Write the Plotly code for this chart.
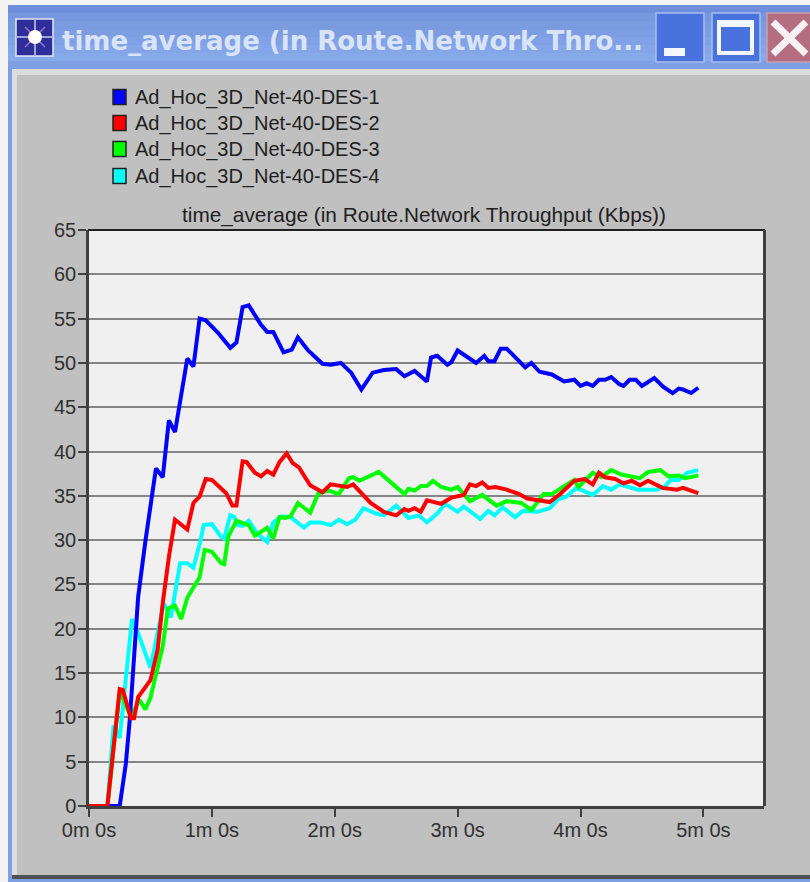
import plotly.graph_objects as go

series_names = ["Ad_Hoc_3D_Net-40-DES-1", "Ad_Hoc_3D_Net-40-DES-2", "Ad_Hoc_3D_Net-40-DES-3", "Ad_Hoc_3D_Net-40-DES-4"]
chart_title = "time_average (in Route.Network Throughput (Kbps))"
window_title = "time_average (in Route.Network Thro..."
x_tick_vals = [0, 60, 120, 180, 240, 300]
x_tick_text = ["0m 0s", "1m 0s", "2m 0s", "3m 0s", "4m 0s", "5m 0s"]
y_tick_vals = list(range(0, 70, 5))

t1 = [0,15,18,20,24,27.6,32.7,36,39,42,48,51,54,57,63,67,69,72,75,78,84,87,90,95,99,102,107,114,118,123,128,133,138.5,144,150,154,159,165,167,170,175,177,180,189,193,195,198,201,204,207,213,216,220,226,232,237,240,243,246,249,252,255,259,261,264,267,270,276,280.5,285,288,290,294,297.5]
v1 = [0,0,4.8,10,23.6,30,38.1,37.1,43.5,42.2,50.5,49.6,55,54.8,53.4,52.2,51.7,52.3,56.3,56.5,54.3,53.5,53.5,51.2,51.5,52.9,51.4,49.9,49.8,50,48.9,47,48.9,49.2,49.3,48.5,49.1,47.9,50.6,50.8,49.8,50.1,51.4,50,50.8,50.2,50.2,51.6,51.6,50.9,49.5,50,49,48.7,47.9,48.1,47.4,47.7,47.4,48.1,48.1,48.4,47.6,47.4,48.1,48.1,47.4,48.3,47.3,46.6,47.1,47,46.6,47.2]

t2 = [0,9,15,16.5,20.5,22,24,30,33.5,36,39,42,48,51,54,57,60,67,70,72,75,77,81,84,87,90,93,96.5,99.5,102.5,108,114,118,121,126,129,137.5,144,150,154,156,159,162,165,172,177,183,186,189,192,195,198.5,204,210,214,225,230,237,242,246,249,252,257,261,265,269,273,280,287,290,297.5]
v2 = [0,0,13.2,13.1,9.9,9.9,12.3,14.2,17.6,22.9,28.1,32.3,31.2,34.2,34.9,36.9,36.8,35.3,33.9,33.9,38.9,38.8,37.6,37.2,37.8,37.4,38.8,39.8,38.7,38.2,36.2,35.4,36.3,36.2,36,36.3,34.2,33.2,32.8,33.5,33.3,33.6,33.2,34.5,34.1,34.8,35.1,36.3,36.1,36.5,35.9,36,35.7,35.2,34.7,34.3,35.2,36.7,36.9,36.3,37.6,37.1,36.9,36.4,36.7,36.2,36.7,35.9,35.7,35.9,35.3]

t3 = [0,9,15,20.5,24.5,27.5,30,36,38.5,42,45,48,54,56.5,60,64.5,66,68,72,78,81,87,90,93,96,98.5,102,108,112,117,122,127,129,132,141.5,154,156,159,162,165,168,172,177,180,186,192,199,204,211,216,222,226,232,237,239,246,250,255,260,269,273,279,283,288,291,297.5]
v3 = [0,0,13,10,12,10.9,12.2,18,22.3,22.6,21.1,23.5,25.8,28.9,28.7,27.4,27.3,30.4,32.2,31.7,30.5,31.4,30.2,32.6,32.5,32.7,34.2,33.1,35.3,35.6,35.2,37,37.1,36.7,37.7,35.2,35.8,35.6,36.1,36.1,36.7,36,35.7,36,34.4,35.1,33.9,34.4,34.2,33.4,35.2,35.2,36.1,36.8,36,37.6,37.1,37.9,37.4,37,37.7,37.9,37.2,37.3,37,37.3]

t4 = [0,9,12,15,21,24,30,36.5,40,44.5,48,51,54.5,56,60,64.5,66,69,71,72.5,75,78,82,87,90,94,98.5,105,108,113,118,122,126,130,134,140,144,150,156,161,165,170,174,180,183,191,195,198,202,208,212,219,225,229,233,238,246,251,255,259,268,277,281,284,288,292,297.5]
v4 = [0,0,9.1,7.7,21.1,19.5,15.6,22.9,21.3,27.4,27.4,26.9,30,31.7,31.8,30.4,30.2,32.8,32.6,31.7,31.6,32.2,30.8,29.8,32,32.7,32.6,31.4,32,32,31.7,32.3,31.8,32.3,33.6,33,32.8,33.9,32.5,32.8,32,33,34.1,33.2,33.8,32.4,33.3,32.8,33.7,32.6,33.3,33.2,33.6,34.6,34.9,35.9,35.1,36.1,35.7,36.3,35.7,35.7,36,36.8,36.8,37.6,37.9]

colors = ["#0000ff", "#ff0000", "#00ff00", "#00ffff"]
draw_order = [3, 2, 0, 1]
all_t = [t1, t2, t3, t4]
all_v = [v1, v2, v3, v4]

L, R, T, B = 89, 764, 230, 806
def X(px): return (px - L) / (R - L)
def Y(py): return (B - py) / (B - T)

def rect(x0, y0, x1, y1, fill, line=None, lw=0):
    return dict(type="rect", xref="paper", yref="paper", x0=X(x0), x1=X(x1), y0=Y(y1), y1=Y(y0),
                fillcolor=fill, line=dict(color=line or fill, width=lw), layer="above")

def seg(a, b, c, e, color, w):
    return dict(type="line", xref="paper", yref="paper", x0=X(a), y0=Y(b), x1=X(c), y1=Y(e),
                line=dict(color=color, width=w), layer="above")

shapes = []
# window frame
shapes.append(rect(0, 0, 8, 882, "#f4f4f4"))
shapes.append(rect(0, 0, 810, 5, "#f4f4f4"))
shapes.append(rect(8, 5, 12, 882, "#7f9fe3"))
bands = ["#6f8fdc", "#7797df", "#7b9be0", "#7d9de2", "#80a1e5", "#84a6e8", "#86a9ea", "#7f9fe3"]
for i, c in enumerate(bands):
    shapes.append(rect(8, 5 + i * 8, 810, 5 + (i + 1) * 8 + 1, c))
shapes.append(rect(12, 69, 810, 75, "#dcdcdc"))
shapes.append(rect(12, 69, 17, 876, "#dcdcdc"))
shapes.append(rect(12, 875, 810, 879, "#505050"))
shapes.append(rect(8, 879, 810, 882, "#7f9fe3"))
# icon
shapes.append(rect(16, 19, 53, 56, "#2e2d9a", "#e4e8f8", 1.5))
shapes.append(seg(35, 20, 35, 55, "#c8ccf0", 1.5))
shapes.append(seg(17, 37, 52, 37, "#c8ccf0", 1.5))
shapes.append(seg(25, 27, 45, 47, "#8f7fc0", 1.5))
shapes.append(seg(45, 27, 25, 47, "#8f7fc0", 1.5))
shapes.append(dict(type="circle", xref="paper", yref="paper", x0=X(28), x1=X(42), y0=Y(44), y1=Y(30),
                   fillcolor="#ffffff", line=dict(color="#ffffff", width=0), layer="above"))
# buttons
shapes.append(rect(656, 13, 704, 62, "#4a72dc", "#a8c0f0", 1.5))
shapes.append(rect(664, 48, 685, 56, "#f4f6fd"))
shapes.append(rect(712, 13, 760, 62, "#4a72dc", "#a8c0f0", 1.5))
shapes.append(rect(717, 20, 754, 55, "#f4f6fd"))
shapes.append(rect(721, 27, 750, 51, "#4a72dc"))
shapes.append(rect(767, 13, 812, 62, "#b56d80", "#c8a0b0", 1.5))
shapes.append(seg(773, 22, 806, 54, "#f8f2f4", 7))
shapes.append(seg(806, 22, 773, 54, "#f8f2f4", 7))
# plot frame, top and right sides
shapes.append(seg(L - 1, T, R + 1, T, "#202020", 2))
shapes.append(seg(R + 0.5, T, R + 0.5, B, "#404040", 3))
# legend swatches
legend_y = [97, 123, 149, 176]
for yy, c in zip(legend_y, colors):
    shapes.append(rect(113, yy - 7.5, 126, yy + 7.5, c, "#202020", 1.5))

annotations = [dict(text="<b>" + window_title + "</b>", xref="paper", yref="paper", x=X(60), y=Y(41),
                    xanchor="left", yanchor="middle", showarrow=False,
                    font=dict(family="DejaVu Sans", size=26, color="#d9e4f8"))]
for yy, n in zip(legend_y, series_names):
    annotations.append(dict(text=n, xref="paper", yref="paper", x=X(133), y=Y(yy), xanchor="left",
                            yanchor="middle", showarrow=False,
                            font=dict(family="Liberation Sans", size=20, color="#202020")))

fig = go.Figure()
for i in draw_order:
    fig.add_trace(go.Scatter(x=all_t[i], y=all_v[i], mode="lines", name=series_names[i],
                             line=dict(color=colors[i], width=4)))

fig.update_layout(
    width=810, height=882, autosize=False, showlegend=False,
    margin=dict(l=L, r=810 - R, t=T, b=882 - B),
    paper_bgcolor="#c0c0c0", plot_bgcolor="#f0f0f0",
    font=dict(family="Liberation Sans", size=20, color="#303030"),
    title=dict(text=chart_title, x=424 / 810, y=1 - 215 / 882, xanchor="center", yanchor="middle",
               font=dict(family="Liberation Sans", size=20.8, color="#202020")),
    shapes=shapes, annotations=annotations,
    xaxis=dict(range=[0, 329.6], tickmode="array", tickvals=x_tick_vals, ticktext=x_tick_text,
               showgrid=False, zeroline=False, showline=True, linecolor="#404040", linewidth=2.5,
               ticks="outside", ticklen=8, tickwidth=2, tickcolor="#404040", ticklabelstandoff=-4),
    yaxis=dict(range=[0, 65], tickmode="array", tickvals=y_tick_vals,
               showgrid=True, gridcolor="#858585", gridwidth=2, zeroline=False, showline=True,
               linecolor="#404040", linewidth=2.5, ticks="outside", ticklen=8, tickwidth=2,
               tickcolor="#404040", ticklabelstandoff=-2),
)
fig.write_html("out.html", config=dict(displayModeBar=False),
               post_script="document.body.style.margin='0';document.body.style.overflow='hidden';")
